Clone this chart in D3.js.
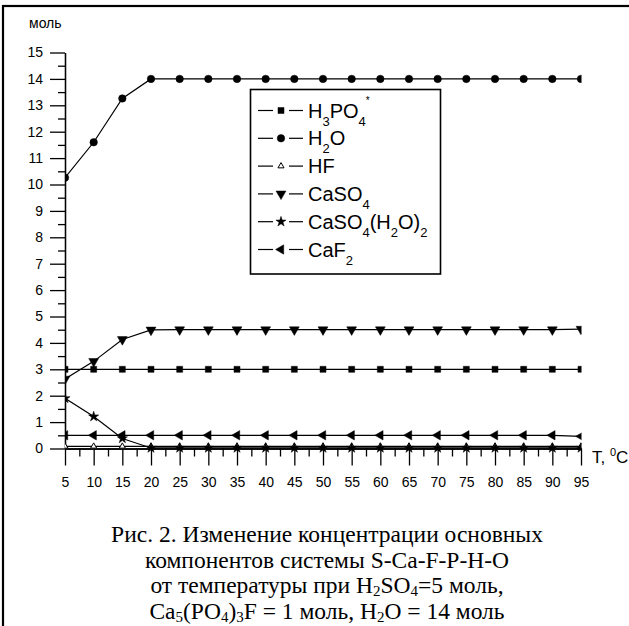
<!DOCTYPE html>
<html>
<head>
<meta charset="utf-8">
<script src="https://cdn.jsdelivr.net/npm/d3@7"></script>
<style>
  body { margin: 0; background: #fff; }
  svg { display: block; }
  .axis text { font-family: "Liberation Sans", Arial, sans-serif; font-size: 14px; fill: #000; }
  .axis path, .axis line { stroke: #000; stroke-width: 1.3; }
</style>
</head>
<body>
<svg id="chart" width="629" height="626"></svg>
<script>
// temperatures, °C
var temps = [5, 10, 15, 20, 25, 30, 35, 40, 45, 50, 55, 60, 65, 70, 75, 80, 85, 90, 95]
// moles of each component
var h3po4 = [3, 3, 3, 3, 3, 3, 3, 3, 3, 3, 3, 3, 3, 3, 3, 3, 3, 3, 3]
var h2o = [10.26, 11.6, 13.26, 14, 14, 14, 14, 14, 14, 14, 14, 14, 14, 14, 14, 14, 14, 14, 14]
var hf = [0.08, 0.08, 0.08, 0.08, 0.08, 0.08, 0.08, 0.08, 0.08, 0.08, 0.08, 0.08, 0.08, 0.08, 0.08, 0.08, 0.08, 0.08, 0.08]
var caso4 = [2.63, 3.3, 4.13, 4.49, 4.5, 4.5, 4.5, 4.5, 4.5, 4.5, 4.5, 4.5, 4.5, 4.5, 4.5, 4.5, 4.5, 4.5, 4.52]
var gypsum = [1.9, 1.21, 0.38, 0.02, 0.02, 0.02, 0.02, 0.02, 0.02, 0.02, 0.02, 0.02, 0.02, 0.02, 0.02, 0.02, 0.02, 0.02, 0.02]
var caf2 = [0.5, 0.5, 0.5, 0.5, 0.5, 0.5, 0.5, 0.5, 0.5, 0.5, 0.5, 0.5, 0.5, 0.5, 0.5, 0.5, 0.5, 0.5, 0.46]

var yTicks = [0, 1, 2, 3, 4, 5, 6, 7, 8, 9, 10, 11, 12, 13, 14, 15]
var yMinor = [0.5, 1.5, 2.5, 3.5, 4.5, 5.5, 6.5, 7.5, 8.5, 9.5, 10.5, 11.5, 12.5, 13.5, 14.5]
var xMinor = [7.5, 12.5, 17.5, 22.5, 27.5, 32.5, 37.5, 42.5, 47.5, 52.5, 57.5, 62.5, 67.5, 72.5, 77.5, 82.5, 87.5, 92.5]

// legend label pieces: [text, kind] kind: n normal, s sub, p sup
var series = [
  {id: 'h3po4', values: h3po4, sym: d3.symbolSquare, size: 36, rot: 0, open: false,
   label: [['H', 'n'], ['3', 's'], ['PO', 'n'], ['4', 's'], ['*', 'p']]},
  {id: 'h2o', values: h2o, sym: d3.symbolCircle, size: 44, rot: 0, open: false,
   label: [['H', 'n'], ['2', 's'], ['O', 'n']]},
  {id: 'hf', values: hf, sym: d3.symbolTriangle, size: 16, rot: 0, open: true,
   label: [['HF', 'n']]},
  {id: 'caso4', values: caso4, sym: d3.symbolTriangle, size: 42, rot: 180, open: false,
   label: [['CaSO', 'n'], ['4', 's']]},
  {id: 'gypsum', values: gypsum, sym: d3.symbolStar, size: 32, rot: 0, open: false,
   label: [['CaSO', 'n'], ['4', 's'], ['(H', 'n'], ['2', 's'], ['O)', 'n'], ['2', 's']]},
  {id: 'caf2', values: caf2, sym: d3.symbolTriangle, size: 38, rot: -90, open: false,
   label: [['CaF', 'n'], ['2', 's']]}
]

var svg = d3.select('#chart')

// frame
svg.append('rect')
  .attr('x', 3).attr('y', 6).attr('width', 640).attr('height', 640)
  .attr('fill', 'none').attr('stroke', '#000').attr('stroke-width', 2.2)

var x = d3.scaleLinear().domain([5, 95]).range([65, 581]),
    y = d3.scaleLinear().domain([0, 15]).range([448.5, 52.5])

// axes
svg.append('g').attr('class', 'axis')
  .attr('transform', 'translate(65,0)')
  .call(d3.axisLeft(y).tickValues(yMinor).tickSize(7).tickSizeOuter(0).tickFormat(''))
svg.append('g').attr('class', 'axis')
  .attr('transform', 'translate(65,0)')
  .call(d3.axisLeft(y).tickValues(yTicks).tickSize(15).tickPadding(7).tickSizeOuter(0))

svg.append('g').attr('class', 'axis')
  .attr('transform', 'translate(0,' + y(0) + ')')
  .call(d3.axisBottom(x).tickValues(xMinor).tickSize(8).tickSizeOuter(0).tickFormat(''))
svg.append('g').attr('class', 'axis')
  .attr('transform', 'translate(0,' + y(0) + ')')
  .call(d3.axisBottom(x).tickValues(temps).tickSize(17).tickPadding(12).tickSizeOuter(0))

svg.append('text')
  .attr('x', 29).attr('y', 28)
  .style('font', '14px "Liberation Sans", Arial, sans-serif')
  .text('моль')

var tl = svg.append('text')
  .attr('x', 592).attr('y', 463)
  .style('font', '17px "Liberation Sans", Arial, sans-serif')
tl.append('tspan').text('T, ')
tl.append('tspan').attr('dy', -7).style('font-size', '11px').text('0')
tl.append('tspan').attr('dy', 7).text('C')

// plot
svg.append('clipPath').attr('id', 'plotclip')
  .append('rect').attr('x', 65).attr('y', 0).attr('width', 581.5 - 65).attr('height', 470)

var plot = svg.append('g').attr('clip-path', 'url(#plotclip)')

var line = d3.line()
  .x(function(d, i) { return x(temps[i]) })
  .y(function(d) { return y(d) })

function marker(g, s) {
  return g.append('path')
    .attr('d', d3.symbol().type(s.sym).size(s.size))
    .attr('fill', s.open ? '#fff' : '#000')
    .attr('stroke', '#000')
    .attr('stroke-width', s.open ? 1 : 0.5)
}

series.forEach(function(s) {
  var g = plot.append('g').attr('class', s.id)
  g.append('path')
    .attr('d', line(s.values))
    .attr('fill', 'none')
    .attr('stroke', '#000')
    .attr('stroke-width', 1.2)
  s.values.forEach(function(v, i) {
    marker(g, s).attr('transform', 'translate(' + x(temps[i]) + ',' + y(v) + ') rotate(' + s.rot + ')')
  })
})

// legend
var lg = svg.append('g')
lg.append('rect')
  .attr('x', 250.5).attr('y', 89.5).attr('width', 190).attr('height', 184.5)
  .attr('fill', '#fff').attr('stroke', '#000').attr('stroke-width', 1.6)

series.forEach(function(s, i) {
  var cy = 110.5 + i * 27.8
  var row = lg.append('g')
  row.append('line').attr('x1', 258).attr('x2', 273).attr('y1', cy).attr('y2', cy)
    .attr('stroke', '#000').attr('stroke-width', 1.2)
  row.append('line').attr('x1', 289).attr('x2', 303).attr('y1', cy).attr('y2', cy)
    .attr('stroke', '#000').attr('stroke-width', 1.2)
  marker(row, s).attr('transform', 'translate(281,' + cy + ') rotate(' + s.rot + ')')
  var t = row.append('text')
    .attr('x', 308).attr('y', cy + 7)
    .style('font', '20px "Liberation Sans", Arial, sans-serif')
  var shift = 0
  s.label.forEach(function(p) {
    var dy = 0, size = '20px'
    if (p[1] === 's') { dy = 8 - shift; size = '13px'; shift = 8 }
    else if (p[1] === 'p') { dy = -14 - shift; size = '10px'; shift = -14 }
    else { dy = -shift; shift = 0 }
    t.append('tspan').attr('dy', dy).style('font-size', size).text(p[0])
  })
})

// caption
var caption = [
  [['Рис. 2. Изменение концентрации основных', 'n']],
  [['компонентов системы S-Ca-F-P-H-O', 'n']],
  [['от температуры при H', 'n'], ['2', 's'], ['SO', 'n'], ['4', 's'], ['=5 моль,', 'n']],
  [['Ca', 'n'], ['5', 's'], ['(PO', 'n'], ['4', 's'], [')', 'n'], ['3', 's'], ['F = 1 моль, H', 'n'], ['2', 's'], ['O = 14 моль', 'n']]
]
caption.forEach(function(parts, i) {
  var t = svg.append('text')
    .attr('x', 327).attr('y', 542 + i * 25.5)
    .attr('text-anchor', 'middle')
    .style('font', '23.5px "Liberation Serif", "Times New Roman", serif')
  var shift = 0
  parts.forEach(function(p) {
    var dy, size = '23.5px'
    if (p[1] === 's') { dy = 3 - shift; size = '15px'; shift = 3 }
    else { dy = -shift; shift = 0 }
    t.append('tspan').attr('dy', dy).style('font-size', size).text(p[0])
  })
})
</script>
</body>
</html>
